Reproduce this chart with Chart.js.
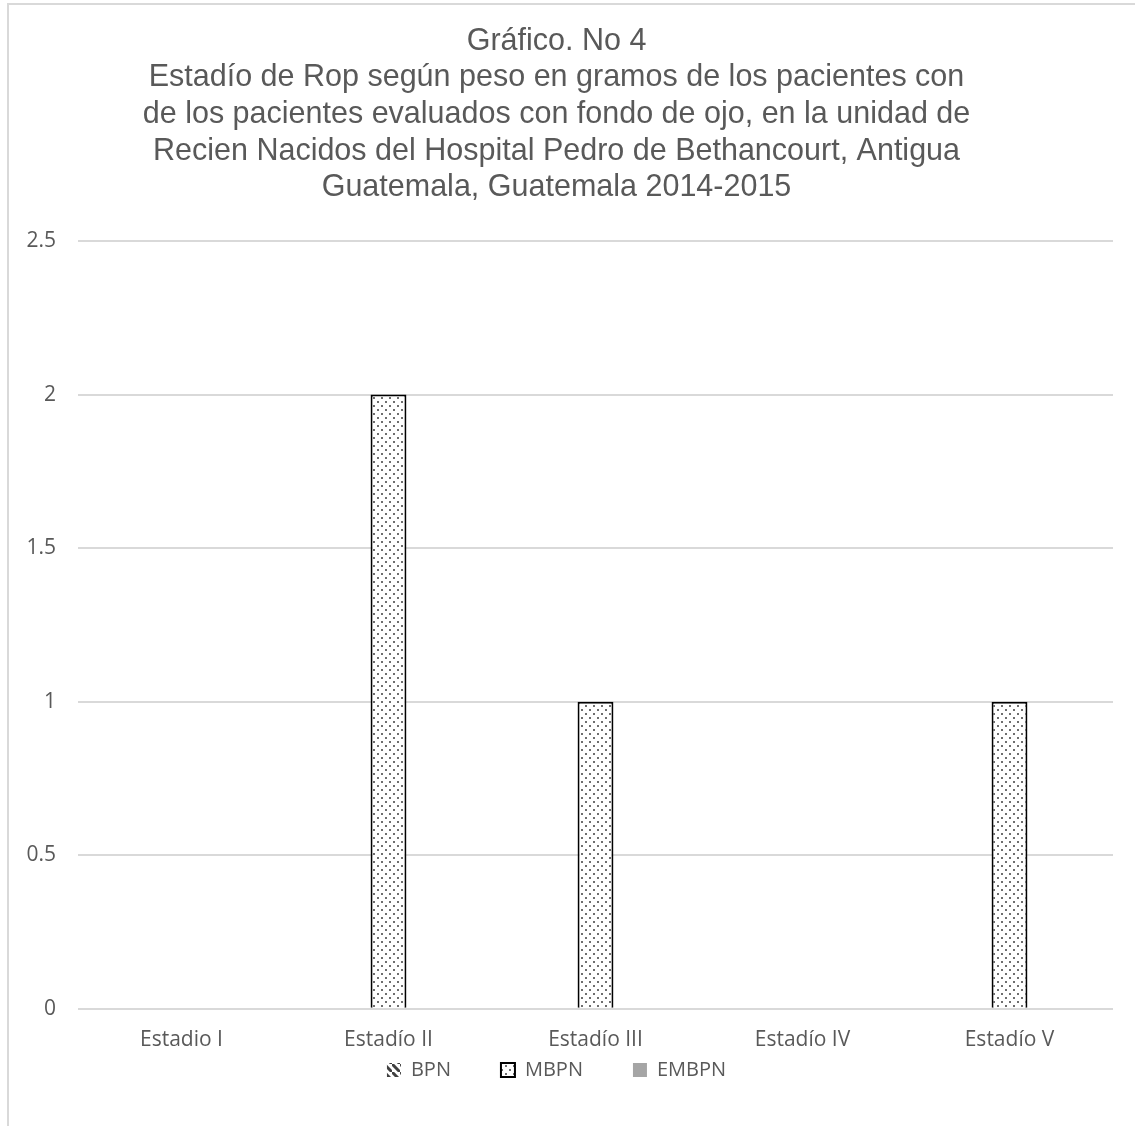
<!DOCTYPE html>
<html>
<head>
<meta charset="utf-8">
<script src="https://cdn.jsdelivr.net/npm/chart.js@4/dist/chart.umd.min.js"></script>
<style>
  body { margin: 0; background: #fff; }
  #frame { position: absolute; left: 7px; top: 3px; width: 1300px; height: 1300px;
           border-left: 2px solid #d9d9d9; border-top: 2px solid #d9d9d9; }
  #wrap { position: absolute; left: 0; top: 0; width: 1135px; height: 1126px; }
</style>
</head>
<body>
<div id="frame"></div>
<div id="wrap"><canvas id="chart"></canvas></div>
<script>
const categories = ['Estadio I', 'Estadío II', 'Estadío III', 'Estadío IV', 'Estadío V'];
const bpn = [0, 0, 0, 0, 0];
const mbpn = [0, 2, 1, 0, 1];
const embpn = [0, 0, 0, 0, 0];
const titleLines = [
    'Gráfico. No 4',
    'Estadío de Rop según peso en gramos de los pacientes con',
    'de los pacientes evaluados con fondo de ojo, en la unidad de',
    'Recien Nacidos del Hospital Pedro de Bethancourt, Antigua',
    'Guatemala, Guatemala 2014-2015'
];

function dotPattern() {
    const c = document.createElement('canvas');
    c.width = 8; c.height = 8;
    const g = c.getContext('2d');
    g.fillStyle = '#fff';
    g.fillRect(0, 0, 8, 8);
    g.fillStyle = '#6e6e6e';
    g.fillRect(1, 1, 2, 2);
    g.fillRect(5, 5, 2, 2);
    return g.createPattern(c, 'repeat');
}

// wide dashed diagonal, used only by the legend swatch since BPN has no bars
function dashPattern() {
    const c = document.createElement('canvas');
    c.width = 8; c.height = 8;
    const g = c.getContext('2d');
    g.fillStyle = '#fff';
    g.fillRect(0, 0, 8, 8);
    g.strokeStyle = '#404040';
    g.lineWidth = 3;
    g.beginPath();
    g.moveTo(-2, -2); g.lineTo(10, 10);
    g.stroke();
    return g.createPattern(c, 'repeat');
}

const gridColor = '#d9d9d9';
const textColor = '#595959';
const gap = '\u2003\u2003';
const tickFont = { family: 'Open Sans', size: 21 };

const ctx = document.getElementById('chart').getContext('2d');
const chart = new Chart(ctx, {
    type: 'bar',
    data: {
        labels: categories,
        datasets: [
            { label: 'BPN', data: bpn, backgroundColor: dashPattern(), borderColor: '#555', borderWidth: 0 },
            { label: 'MBPN', data: mbpn, backgroundColor: dotPattern(), borderColor: '#000',
              borderWidth: c => (c.raw ? 2 : 0) },
            { label: 'EMBPN', data: embpn, backgroundColor: '#a5a5a5', borderWidth: 0 }
        ]
    },
    options: {
        responsive: true,
        maintainAspectRatio: false,
        animation: false,
        layout: { padding: { top: 12, right: 22, bottom: 36, left: 0 } },
        datasets: { bar: { categoryPercentage: 0.52, barPercentage: 1 } },
        plugins: {
            title: {
                display: true,
                text: titleLines,
                color: textColor,
                font: { family: 'Liberation Sans', size: 30.5, weight: 'normal', lineHeight: 1.2 },
                padding: { top: 11, bottom: 35 }
            },
            legend: {
                position: 'bottom',
                labels: {
                    color: textColor,
                    font: { family: 'Open Sans', size: 20 },
                    boxWidth: 14,
                    boxHeight: 14,
                    padding: 10,
                    generateLabels: c => Chart.defaults.plugins.legend.labels.generateLabels(c).map((l, i, all) => {
                        l.lineWidth = i === 1 ? 2 : 0;
                        l.strokeStyle = '#000';
                        if (i < all.length - 1) l.text += gap;
                        return l;
                    })
                }
            },
            tooltip: { enabled: false }
        },
        scales: {
            x: {
                grid: { display: false, drawTicks: false },
                border: { display: false },
                ticks: { color: textColor, font: tickFont, padding: 19 },
                afterFit: s => { s.height -= 22; }
            },
            y: {
                min: 0,
                max: 2.5,
                ticks: { stepSize: 0.5, color: textColor, font: tickFont, padding: 22,
                         callback: v => String(v) },
                grid: { color: gridColor, lineWidth: 2, drawTicks: false },
                border: { display: false },
                afterFit: s => { s.width = 78; }
            }
        }
    }
});
</script>
</body>
</html>
